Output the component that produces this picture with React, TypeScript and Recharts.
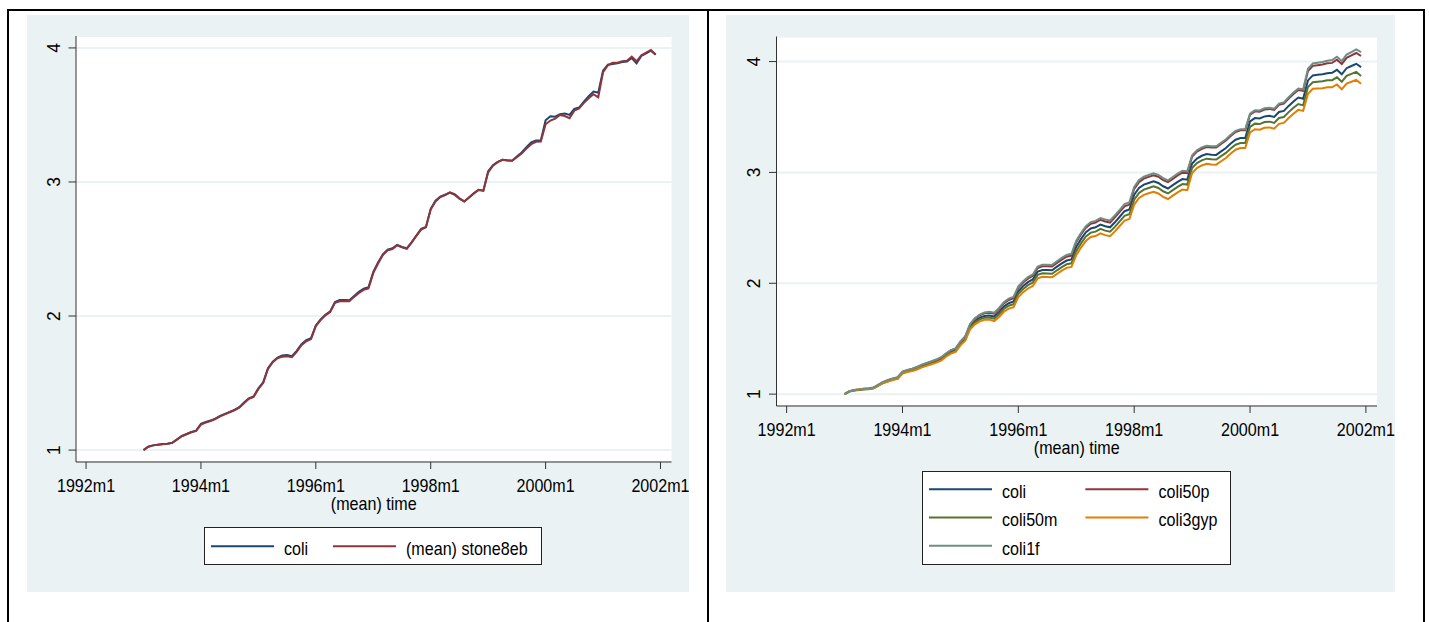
import React from "react";
import { LineChart, Line, XAxis, YAxis, CartesianGrid, Legend } from "recharts";

// monthly series, 1993m1 .. 2001m12 (months counted from 1992m1)
const months = Array.from({ length: 108 }, (_, i) => 12 + i);

const coli = [
  1.000, 1.025, 1.035, 1.040, 1.045, 1.048, 1.055, 1.080, 1.105, 1.120, 1.135, 1.145,
  1.195, 1.210, 1.220, 1.235, 1.255, 1.270, 1.285, 1.300, 1.320, 1.355, 1.385, 1.400,
  1.460, 1.505, 1.610, 1.660, 1.690, 1.705, 1.710, 1.700, 1.740, 1.790, 1.820, 1.835,
  1.930, 1.975, 2.010, 2.035, 2.105, 2.120, 2.120, 2.118, 2.150, 2.180, 2.205, 2.215,
  2.330, 2.400, 2.460, 2.495, 2.505, 2.530, 2.515, 2.505, 2.550, 2.600, 2.650, 2.665,
  2.800, 2.860, 2.890, 2.905, 2.920, 2.905, 2.875, 2.855, 2.885, 2.915, 2.940, 2.935,
  3.080, 3.125, 3.150, 3.165, 3.160, 3.158, 3.190, 3.220, 3.260, 3.295, 3.310, 3.310,
  3.460, 3.490, 3.487, 3.505, 3.510, 3.500, 3.545, 3.555, 3.600, 3.640, 3.675, 3.665,
  3.830, 3.875, 3.880, 3.885, 3.895, 3.898, 3.925, 3.885, 3.940, 3.960, 3.980, 3.950,
];

const stone8eb = [
  1.000, 1.025, 1.035, 1.040, 1.044, 1.047, 1.054, 1.078, 1.103, 1.118, 1.133, 1.143,
  1.190, 1.205, 1.217, 1.232, 1.251, 1.266, 1.282, 1.297, 1.316, 1.350, 1.382, 1.397,
  1.456, 1.500, 1.605, 1.655, 1.685, 1.697, 1.700, 1.693, 1.732, 1.782, 1.812, 1.828,
  1.925, 1.970, 2.005, 2.030, 2.098, 2.110, 2.112, 2.110, 2.143, 2.172, 2.195, 2.205,
  2.320, 2.392, 2.455, 2.490, 2.500, 2.528, 2.512, 2.502, 2.548, 2.598, 2.645, 2.662,
  2.795, 2.855, 2.888, 2.902, 2.922, 2.910, 2.878, 2.855, 2.885, 2.915, 2.942, 2.935,
  3.072, 3.122, 3.148, 3.165, 3.162, 3.158, 3.185, 3.212, 3.250, 3.282, 3.300, 3.302,
  3.430, 3.458, 3.472, 3.500, 3.492, 3.476, 3.532, 3.548, 3.590, 3.625, 3.655, 3.632,
  3.820, 3.870, 3.890, 3.890, 3.900, 3.905, 3.935, 3.900, 3.945, 3.965, 3.985, 3.950,
];

const coli50p = [
  1.000, 1.025, 1.037, 1.042, 1.048, 1.051, 1.058, 1.084, 1.109, 1.125, 1.140, 1.150,
  1.201, 1.216, 1.227, 1.242, 1.263, 1.278, 1.293, 1.309, 1.329, 1.365, 1.395, 1.410,
  1.472, 1.519, 1.628, 1.680, 1.712, 1.729, 1.735, 1.725, 1.767, 1.818, 1.849, 1.865,
  1.962, 2.007, 2.042, 2.067, 2.138, 2.153, 2.153, 2.151, 2.184, 2.214, 2.240, 2.250,
  2.372, 2.442, 2.502, 2.537, 2.547, 2.573, 2.558, 2.548, 2.594, 2.644, 2.694, 2.710,
  2.852, 2.913, 2.944, 2.960, 2.975, 2.961, 2.931, 2.912, 2.942, 2.973, 2.998, 2.994,
  3.142, 3.188, 3.213, 3.229, 3.225, 3.224, 3.257, 3.288, 3.328, 3.364, 3.380, 3.380,
  3.520, 3.551, 3.548, 3.567, 3.573, 3.563, 3.609, 3.620, 3.666, 3.707, 3.743, 3.735,
  3.915, 3.961, 3.967, 3.973, 3.984, 3.988, 4.016, 3.977, 4.034, 4.055, 4.077, 4.050,
];

const coli50m = [
  1.000, 1.024, 1.033, 1.038, 1.043, 1.045, 1.052, 1.077, 1.101, 1.116, 1.131, 1.140,
  1.189, 1.203, 1.213, 1.228, 1.247, 1.262, 1.277, 1.291, 1.311, 1.346, 1.375, 1.390,
  1.450, 1.494, 1.597, 1.645, 1.674, 1.688, 1.692, 1.681, 1.720, 1.768, 1.797, 1.811,
  1.905, 1.949, 1.983, 2.007, 2.076, 2.090, 2.089, 2.086, 2.117, 2.146, 2.171, 2.180,
  2.292, 2.362, 2.422, 2.457, 2.466, 2.491, 2.475, 2.465, 2.509, 2.559, 2.609, 2.623,
  2.755, 2.815, 2.845, 2.860, 2.875, 2.860, 2.830, 2.810, 2.840, 2.870, 2.895, 2.890,
  3.040, 3.084, 3.109, 3.124, 3.118, 3.116, 3.147, 3.176, 3.215, 3.250, 3.265, 3.265,
  3.410, 3.440, 3.436, 3.454, 3.458, 3.447, 3.491, 3.500, 3.544, 3.583, 3.617, 3.605,
  3.770, 3.814, 3.818, 3.822, 3.831, 3.832, 3.858, 3.817, 3.871, 3.889, 3.907, 3.870,
];

const coli3gyp = [
  1.000, 1.025, 1.036, 1.041, 1.045, 1.047, 1.052, 1.076, 1.100, 1.114, 1.128, 1.137,
  1.185, 1.199, 1.208, 1.222, 1.241, 1.255, 1.269, 1.284, 1.303, 1.337, 1.366, 1.382,
  1.440, 1.482, 1.584, 1.630, 1.657, 1.670, 1.672, 1.659, 1.696, 1.743, 1.771, 1.785,
  1.875, 1.919, 1.953, 1.976, 2.044, 2.058, 2.057, 2.054, 2.085, 2.114, 2.139, 2.148,
  2.255, 2.324, 2.383, 2.417, 2.426, 2.450, 2.434, 2.424, 2.468, 2.517, 2.566, 2.580,
  2.710, 2.769, 2.798, 2.812, 2.826, 2.810, 2.780, 2.760, 2.790, 2.820, 2.845, 2.840,
  2.995, 3.039, 3.063, 3.078, 3.072, 3.070, 3.101, 3.130, 3.170, 3.205, 3.220, 3.220,
  3.360, 3.389, 3.385, 3.402, 3.406, 3.394, 3.438, 3.447, 3.491, 3.530, 3.564, 3.555,
  3.710, 3.754, 3.757, 3.760, 3.768, 3.768, 3.793, 3.750, 3.802, 3.818, 3.835, 3.800,
];

const coli1f = [
  1.000, 1.026, 1.038, 1.043, 1.049, 1.053, 1.060, 1.086, 1.111, 1.127, 1.142, 1.153,
  1.203, 1.219, 1.229, 1.245, 1.266, 1.281, 1.297, 1.312, 1.333, 1.367, 1.397, 1.412,
  1.475, 1.522, 1.632, 1.685, 1.718, 1.736, 1.743, 1.735, 1.777, 1.829, 1.861, 1.877,
  1.973, 2.019, 2.055, 2.080, 2.151, 2.167, 2.168, 2.166, 2.199, 2.230, 2.256, 2.266,
  2.385, 2.456, 2.516, 2.552, 2.563, 2.589, 2.575, 2.566, 2.612, 2.663, 2.714, 2.730,
  2.870, 2.931, 2.961, 2.977, 2.993, 2.978, 2.949, 2.929, 2.959, 2.990, 3.015, 3.010,
  3.155, 3.200, 3.226, 3.241, 3.237, 3.236, 3.268, 3.299, 3.339, 3.375, 3.390, 3.390,
  3.530, 3.561, 3.559, 3.578, 3.584, 3.575, 3.621, 3.632, 3.679, 3.720, 3.757, 3.750,
  3.935, 3.982, 3.989, 3.996, 4.008, 4.013, 4.043, 4.005, 4.063, 4.086, 4.110, 4.085,
];

const xTicks = [0, 24, 48, 72, 96, 120];
const xTickLabels = ["1992m1", "1994m1", "1996m1", "1998m1", "2000m1", "2002m1"];
const yTicks = [1, 2, 3, 4];

// legend order, as the series are drawn
const leftOrder = ["coli", "(mean) stone8eb"];
const rightOrder = ["coli", "coli50p", "coli50m", "coli3gyp", "coli1f"];

const rows = months.map((m, i) => ({
  m,
  coli: coli[i],
  stone8eb: stone8eb[i],
  coli50p: coli50p[i],
  coli50m: coli50m[i],
  coli3gyp: coli3gyp[i],
  coli1f: coli1f[i],
}));

const FONT = '"Liberation Sans", Arial, Helvetica, sans-serif';
const FS = 17.5;
const BG = "#EAF2F3";
const AXIS = "#333";
const NAVY = "#1a476f";
const MAROON = "#90353b";
const GREEN = "#55752f";
const ORANGE = "#e37e00";
const TEAL = "#6e8e84";

// text in the picture is slightly narrower than Arial
const squeeze = (x: number) => `translate(${x} 0) scale(0.92 1) translate(${-x} 0)`;

function XTick({ x, y, payload }: any) {
  const i = xTicks.indexOf(payload.value);
  return (
    <text x={x} y={y + 23.5} textAnchor="middle" fontSize={FS} fontFamily={FONT} fill="#000" transform={squeeze(x)}>
      {xTickLabels[i]}
    </text>
  );
}

function YTick({ x, y, payload }: any) {
  const bx = x - 8.5;
  return (
    <text x={bx} y={y} textAnchor="middle" fontSize={FS} fontFamily={FONT} fill="#000" transform={`rotate(-90 ${bx} ${y})`}>
      {payload.value}
    </text>
  );
}

function AxisTitle(props: any) {
  const vb = props.viewBox;
  const cx = vb.x + vb.width / 2;
  return (
    <text x={cx} y={vb.y + 48} textAnchor="middle" fontSize={FS} fontFamily={FONT} fill="#000" transform={squeeze(cx)}>
      (mean) time
    </text>
  );
}

function LegendBox({ payload, order, w, h, colW, rowH, firstRow }: any) {
  const items = [...(payload || [])].sort((a: any, b: any) => order.indexOf(a.value) - order.indexOf(b.value));
  return (
    <svg width={w} height={h} style={{ display: "block" }}>
      <rect x={0.5} y={0.5} width={w - 1} height={h - 1} fill="#fff" stroke="#222" strokeWidth={1} />
      {items.map((p: any, i: number) => {
        const lx = 7 + (i % 2) * colW;
        const ly = firstRow + Math.floor(i / 2) * rowH;
        return (
          <g key={p.value}>
            <line x1={lx} x2={lx + 63} y1={ly} y2={ly} stroke={p.color} strokeWidth={2} />
            <text x={lx + 73} y={ly + 9} fontSize={FS} fontFamily={FONT} fill="#000" transform={squeeze(lx + 73)}>
              {p.value}
            </text>
          </g>
        );
      })}
    </svg>
  );
}

function LeftChart() {
  return (
    <LineChart width={662} height={577} data={rows} margin={{ top: 21, right: 17.5, bottom: 90, left: 9 }} style={{ overflow: "visible" }}>
      <CartesianGrid vertical={false} stroke={BG} strokeWidth={2} fill="#fff" />
      <XAxis
        dataKey="m"
        type="number"
        domain={[-2.1, 122.3]}
        ticks={xTicks}
        allowDataOverflow
        height={40}
        tickSize={7}
        tickMargin={0}
        stroke={AXIS}
        tick={<XTick />}
        label={<AxisTitle />}
      />
      <YAxis
        type="number"
        domain={[0.911, 4.089]}
        ticks={yTicks}
        allowDataOverflow
        width={40}
        tickSize={7.5}
        tickMargin={0}
        stroke={AXIS}
        tick={<YTick />}
      />
      <Legend
        layout="horizontal"
        verticalAlign="middle"
        align="center"
        itemSorter={null as any}
        wrapperStyle={{ left: 177, top: 512, width: 338, height: 38 }}
        content={(props: any) => (
          <LegendBox payload={props.payload} order={leftOrder} w={338} h={38} colW={122} rowH={28} firstRow={19.3} />
        )}
      />
      <Line type="linear" dataKey="coli" name="coli" stroke={NAVY} strokeWidth={2} dot={false} isAnimationActive={false} />
      <Line type="linear" dataKey="stone8eb" name="(mean) stone8eb" stroke={MAROON} strokeWidth={2} dot={false} isAnimationActive={false} />
    </LineChart>
  );
}

function RightChart() {
  return (
    <LineChart width={669} height={577} data={rows} margin={{ top: 21.5, right: 18, bottom: 146, left: 10.5 }} style={{ overflow: "visible" }}>
      <CartesianGrid vertical={false} stroke={BG} strokeWidth={2} fill="#fff" />
      <XAxis
        dataKey="m"
        type="number"
        domain={[-2.1, 122.3]}
        ticks={xTicks}
        allowDataOverflow
        height={40}
        tickSize={7}
        tickMargin={0}
        stroke={AXIS}
        tick={<XTick />}
        label={<AxisTitle />}
      />
      <YAxis
        type="number"
        domain={[0.893, 4.226]}
        ticks={yTicks}
        allowDataOverflow
        width={40}
        tickSize={7.5}
        tickMargin={0}
        stroke={AXIS}
        tick={<YTick />}
      />
      <Legend
        layout="horizontal"
        verticalAlign="middle"
        align="center"
        itemSorter={null as any}
        wrapperStyle={{ left: 196, top: 456, width: 309, height: 94 }}
        content={(props: any) => (
          <LegendBox payload={props.payload} order={rightOrder} w={309} h={94} colW={156.4} rowH={28.2} firstRow={18.3} />
        )}
      />
      <Line type="linear" dataKey="coli" name="coli" stroke={NAVY} strokeWidth={2} dot={false} isAnimationActive={false} />
      <Line type="linear" dataKey="coli50p" name="coli50p" stroke={MAROON} strokeWidth={2} dot={false} isAnimationActive={false} />
      <Line type="linear" dataKey="coli50m" name="coli50m" stroke={GREEN} strokeWidth={2} dot={false} isAnimationActive={false} />
      <Line type="linear" dataKey="coli3gyp" name="coli3gyp" stroke={ORANGE} strokeWidth={2} dot={false} isAnimationActive={false} />
      <Line type="linear" dataKey="coli1f" name="coli1f" stroke={TEAL} strokeWidth={2} dot={false} isAnimationActive={false} />
    </LineChart>
  );
}

const rule = (style: React.CSSProperties) => <div style={{ position: "absolute", background: "#000", ...style }} />;

export default function App() {
  return (
    <div style={{ position: "absolute", left: 0, top: 0, width: 1429, height: 622, background: "#fff", overflow: "hidden" }}>
      {rule({ left: 7, top: 9, width: 1418, height: 2 })}
      {rule({ left: 7, top: 9, width: 2, height: 613 })}
      {rule({ left: 707, top: 9, width: 2, height: 613 })}
      {rule({ left: 1423, top: 9, width: 2, height: 613 })}
      <div style={{ position: "absolute", left: 27, top: 15, width: 662, height: 577, background: BG }}>
        <LeftChart />
      </div>
      <div style={{ position: "absolute", left: 726, top: 15, width: 669, height: 577, background: BG }}>
        <RightChart />
      </div>
    </div>
  );
}
